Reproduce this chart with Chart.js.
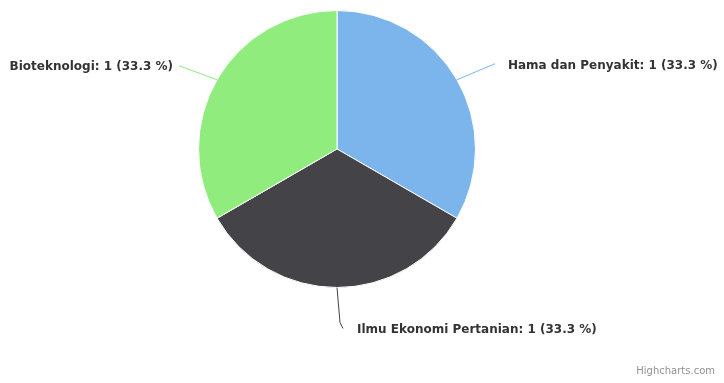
<!DOCTYPE html>
<html>
<head>
<meta charset="utf-8">
<script src="https://cdn.jsdelivr.net/npm/chart.js@4/dist/chart.umd.min.js"></script>
<style>
  html, body { margin: 0; padding: 0; background: #fff; }
  #wrap { width: 724px; height: 383px; }
</style>
</head>
<body>
<div id="wrap"><canvas id="pie" width="724" height="383"></canvas></div>
<script>
// data
const categories = ['Hama dan Penyakit', 'Ilmu Ekonomi Pertanian', 'Bioteknologi'];
const values = [1, 1, 1];
const colors = ['#7cb5ec', '#434348', '#90ed7d'];

const labelFont = 'bold 12px "DejaVu Sans", Verdana, sans-serif';

// draws Highcharts-like data labels with connectors
const pieLabels = {
  id: 'pieLabels',
  afterDraw(chart){
    const ctx = chart.ctx;
    const meta = chart.getDatasetMeta(0);
    const total = values.reduce((a, b) => a + b, 0);
    ctx.save();
    ctx.font = labelFont;
    ctx.textBaseline = 'middle';
    meta.data.forEach((arc, i) => {
      const mid = (arc.startAngle + arc.endAngle) / 2;
      const cx = arc.x, cy = arc.y, r = arc.outerRadius;
      const dx = Math.cos(mid), dy = Math.sin(mid);
      const p0 = { x: cx + r * dx, y: cy + r * dy };
      const pct = (values[i] / total * 100).toFixed(1);
      const text = `${categories[i]}: ${values[i]} (${pct} %)`;
      const pts = [p0];
      let tx, ty, align;
      if(Math.abs(dx) < 0.1){
        pts.push({ x: p0.x + 3, y: p0.y + 35 });
        pts.push({ x: p0.x + 6, y: p0.y + 41 });
        tx = p0.x + 20; ty = p0.y + 42; align = 'left';
      } else if(dx > 0){
        pts.push({ x: p0.x + 38, y: p0.y - 16 });
        tx = p0.x + 51; ty = p0.y - 14; align = 'left';
      } else {
        pts.push({ x: p0.x - 38, y: p0.y - 14 });
        tx = p0.x - 44; ty = p0.y - 13; align = 'right';
      }
      ctx.strokeStyle = colors[i];
      ctx.lineWidth = 1;
      ctx.beginPath();
      pts.forEach((p, k) => k ? ctx.lineTo(p.x, p.y) : ctx.moveTo(p.x, p.y));
      ctx.stroke();
      ctx.fillStyle = '#333333';
      ctx.textAlign = align;
      ctx.fillText(text, tx, ty);
    });
    // credits
    ctx.font = '10px "DejaVu Sans", Verdana, sans-serif';
    ctx.fillStyle = '#909090';
    ctx.textAlign = 'right';
    ctx.fillText('Highcharts.com', 715, 371);
    ctx.restore();
  }
};

new Chart(document.getElementById('pie'), {
  type: 'pie',
  data: {
    labels: categories,
    datasets: [{
      data: values,
      backgroundColor: colors,
      borderColor: '#ffffff',
      borderWidth: 1,
      hoverOffset: 0
    }]
  },
  options: {
    responsive: false,
    animation: false,
    layout: { padding: { left: 198, right: 248, top: 10, bottom: 95 } },
    plugins: { legend: { display: false }, tooltip: { enabled: false } }
  },
  plugins: [pieLabels]
});
</script>
</body>
</html>
